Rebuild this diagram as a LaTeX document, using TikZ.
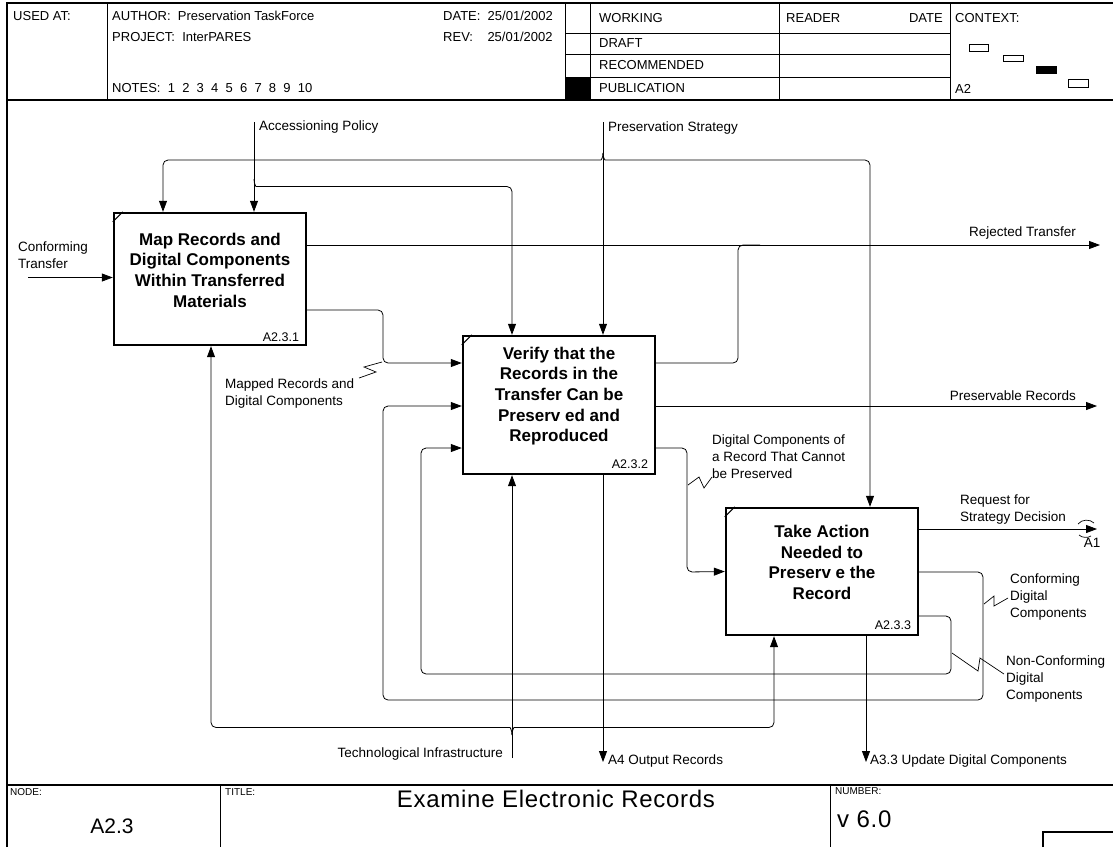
\documentclass[tikz,border=0pt]{standalone}
\usepackage{fontspec}
\setmainfont{Liberation Sans}
\newfontfamily\titlefont{Liberation Sans}[LetterSpace=3]
\usetikzlibrary{arrows.meta}
\begin{document}
\begin{tikzpicture}[x=1pt,y=-1pt,
  conn/.style={line width=0.8pt,rounded corners=5pt},
  arr/.style={conn,-{Triangle[length=11pt,width=8pt]}},
  frameline/.style={line width=1.2pt},
  grid/.style={line width=0.7pt},
  act/.style={draw,line width=2.4pt,inner sep=0pt},
  boxtext/.style={font=\fontsize{17}{20.7}\selectfont\bfseries,align=center,inner sep=0pt},
  boxid/.style={font=\fontsize{12.5}{14}\selectfont,anchor=east,inner sep=0pt},
  lbl/.style={font=\fontsize{13.5}{17}\selectfont,align=left,inner sep=0pt},
  hdr/.style={font=\fontsize{13}{15}\selectfont,anchor=west,inner sep=0pt},
  smalltxt/.style={font=\fontsize{10}{12}\selectfont,anchor=west,inner sep=0pt},
  bigtxt/.style={font=\fontsize{21}{24}\selectfont,inner sep=0pt},
  titletxt/.style={font=\titlefont\fontsize{24}{28}\selectfont,inner sep=0pt},
  squig/.style={line width=0.7pt},
]
\useasboundingbox (0,0) rectangle (1113,847);
\fill[white] (0,0) rectangle (1113,847);

% ---------- frame and header ----------
\draw[frameline] (7,847) -- (7,3) -- (1113,3);
\draw[frameline] (7,100) -- (1113,100);
\draw[grid] (107,3) -- (107,100);
\draw[grid] (565,3) -- (565,100);
\draw[grid] (590,3) -- (590,100);
\draw[grid] (779,3) -- (779,100);
\draw[grid] (950,3) -- (950,100);
\draw[grid] (565,33) -- (950,33);
\draw[grid] (565,54) -- (950,54);
\draw[grid] (565,77) -- (950,77);
\fill (566,77) rectangle (590,100);

\node[hdr] (usedat) at (13,16) {USED AT:};
\node[hdr] (author) at (112,16) {AUTHOR:\ \ Preservation TaskForce};
\node[hdr] (project) at (112,37) {PROJECT:\ \ InterPARES};
\node[hdr] (notes) at (112,88) {NOTES:\ \ 1\ \ 2\ \ 3\ \ 4\ \ 5\ \ 6\ \ 7\ \ 8\ \ 9\ \ 10};
\node[hdr] (date) at (443,16) {DATE:\ \ 25/01/2002};
\node[hdr] (rev) at (443,37) {REV:\ \ \ \ 25/01/2002};
\node[hdr] (working) at (599,18) {WORKING};
\node[hdr] (draft) at (599,43) {DRAFT};
\node[hdr] (recom) at (599,65) {RECOMMENDED};
\node[hdr] (publ) at (599,88) {PUBLICATION};
\node[hdr] (reader) at (786,18) {READER};
\node[hdr,anchor=east] (rdate) at (943,18) {DATE};
\node[hdr] (context) at (955,18) {CONTEXT:};
\node[hdr] (ctxa2) at (955,89) {A2};
\draw[grid] (969,44) rectangle (988,51);
\draw[grid] (1003,55) rectangle (1023,61);
\fill (1036,66) rectangle (1057,74);
\draw[grid] (1068,79) rectangle (1088,87);

% ---------- footer ----------
\draw[frameline] (7,785) -- (1113,785);
\draw[grid] (220,785) -- (220,847);
\draw[grid] (830,785) -- (830,847);
\draw[frameline] (1043,847) -- (1043,832) -- (1113,832);
\node[smalltxt] (nodelbl) at (10,792) {NODE:};
\node[smalltxt] (titlelbl) at (225,792) {TITLE:};
\node[smalltxt] (numlbl) at (835,791) {NUMBER:};
\node[bigtxt] (nodeval) at (112,826) {A2.3};
\node[titletxt] (title) at (556,799) {Examine Electronic Records};
\node[titletxt,anchor=west] (numval) at (837,819) {v 6.0};

% ---------- activity boxes ----------
\node[act,minimum width=192pt,minimum height=132pt] (b1) at (210,279) {};
\node[act,minimum width=192pt,minimum height=138pt] (b2) at (559,405) {};
\node[act,minimum width=192pt,minimum height=127pt] (b3) at (822,571.5) {};
\foreach \b in {b1,b2,b3}{
  \draw[line width=1pt] ([yshift=-10pt]\b.north west) -- ([xshift=10pt]\b.north west);
}
\node[boxtext] (t1) at ([yshift=9pt]b1.center) {Map Records and\\Digital Components\\Within Transferred\\Materials};
\node[boxtext] (t2) at ([yshift=9pt]b2.center) {Verify that the\\Records in the\\Transfer Can be\\Preserv ed and\\Reproduced};
\node[boxtext] (t3) at ([yshift=9pt]b3.center) {Take Action\\Needed to\\Preserv e the\\Record};
\node[boxid] (id1) at ([xshift=-8pt,yshift=9pt]b1.south east) {A2.3.1};
\node[boxid] (id2) at ([xshift=-8pt,yshift=11pt]b2.south east) {A2.3.2};
\node[boxid] (id3) at ([xshift=-8pt,yshift=11pt]b3.south east) {A2.3.3};

% ---------- free ends ----------
\coordinate (ap) at (254,122);
\coordinate (ps) at (603,122);
\coordinate (ct) at (28,277.5);
\coordinate (ti) at (512,758);
\coordinate (rt) at (1100,245);
\coordinate (pr) at (1097,406);
\coordinate (rq) at (1097,529);
\coordinate (a4) at (603,762);
\coordinate (a33) at (866,762);

% ---------- controls ----------
\draw[arr] (ap) -- (254,0 |- b1.north);
\draw[arr] (254,179) .. controls (254,184) and (256,186.5) .. (261,186.5) -- (512,186.5) -- (512,0 |- b2.north);
\draw[arr] (ps) -- (603,0 |- b2.north);
\draw[arr] (603,153) .. controls (603,158) and (601,160) .. (596,160) -- (163,160) -- (163,0 |- b1.north);
\draw[arr] (603,153) .. controls (603,158) and (605,160) .. (610,160) -- (870,160) -- (870,0 |- b3.north);

% ---------- inputs / outputs ----------
\draw[arr] (ct) -- (ct -| b1.west);
\draw[arr] (b1.east |- 0,245) -- (rt);
\draw[conn] (b2.east |- 0,363) -- (738,363) -- (738,245) -- (760,245);
\draw[arr] (b1.east |- 0,310) -- (383,310) -- (383,363) -- (b2.west |- 0,363);
\draw[arr] (b2.east |- 0,406) -- (pr);
\draw[arr] (b2.east |- 0,448) -- (687,448) -- (687,572) -- (b3.west);
\draw[arr] (603,0 |- b2.south) -- (a4);
\draw[arr] (b3.east |- 0,529) -- (rq);
\draw[arr] (b3.east |- 0,572) -- (983,572) -- (983,700) -- (383,700) -- (383,406) -- (b2.west |- 0,406);
\draw[arr] (b3.east |- 0,616) -- (951,616) -- (951,674) -- (421,674) -- (421,448) -- (b2.west |- 0,448);
\draw[arr] (866,0 |- b3.south) -- (a33);

% ---------- mechanisms ----------
\draw[arr] (ti) -- (512,0 |- b2.south);
\draw[arr] (512,735) .. controls (512,730) and (510,727.5) .. (505,727.5) -- (211,727.5) -- (211,0 |- b1.south);
\draw[arr] (512,735) .. controls (512,730) and (514,727.5) .. (519,727.5) -- (774,727.5) -- (774,0 |- b3.south);

% ---------- tunnel at A1 ----------
\draw[squig] (1078,524) .. controls (1082,519) and (1090,519) .. (1094,523);
\draw[squig] (1079,535) .. controls (1082,538) and (1088,538) .. (1091,536);

% ---------- squiggles ----------
\draw[squig] (359,378) -- (376,372) -- (364,367) -- (382,362);
\draw[squig] (688,485) -- (699,477) -- (704,488) -- (712,477);
\draw[squig] (984,604) -- (994,596) -- (994,606) -- (1008,598);
\draw[squig] (952,653) -- (978,671) -- (980,658) -- (1004,674);

% ---------- labels ----------
\node[lbl,anchor=west] (lap) at (259,127) {Accessioning Policy};
\node[lbl,anchor=west] (lps) at (608,128) {Preservation Strategy};
\node[lbl,anchor=west] (lct) at (18,255.5) {Conforming\\Transfer};
\node[lbl,anchor=east] (lrt) at (1076,233) {Rejected Transfer};
\node[lbl,anchor=west] (lmr) at (225,393) {Mapped Records and\\Digital Components};
\node[lbl,anchor=east] (lpr) at (1076,396) {Preservable Records};
\node[lbl,anchor=west] (ldc) at (712,457) {Digital Components of\\a Record That Cannot\\be Preserved};
\node[lbl,anchor=west] (lrq) at (960,510) {Request for\\Strategy Decision};
\node[lbl,anchor=center] (la1) at (1092,543) {A1};
\node[lbl,anchor=west] (lcd) at (1010,597) {Conforming\\Digital\\Components};
\node[lbl,anchor=west] (lnc) at (1006,679) {Non-Conforming\\Digital\\Components};
\node[lbl,anchor=east] (lti) at (503,754) {Technological Infrastructure};
\node[lbl,anchor=west] (la4) at (608,761) {A4 Output Records};
\node[lbl,anchor=west] (la33) at (870,761) {A3.3 Update Digital Components};
\end{tikzpicture}
\end{document}
